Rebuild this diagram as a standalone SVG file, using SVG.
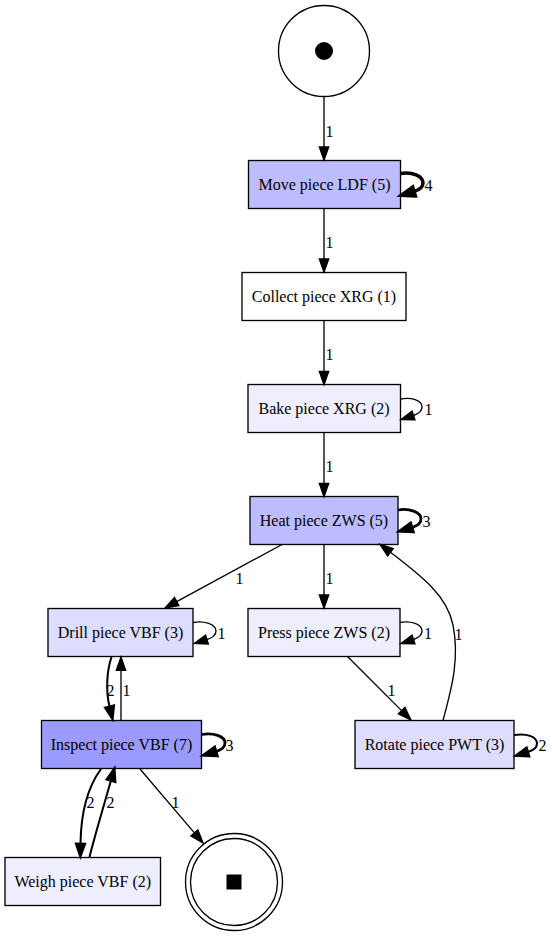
<svg xmlns="http://www.w3.org/2000/svg" width="552" height="936" viewBox="0 0 552 936">
<style>
.box{stroke:#000;stroke-width:1.33}
.lbl{font-family:"Liberation Serif","Times New Roman",serif;font-size:16px;fill:#000}
.nl{text-anchor:middle}
.e{fill:none;stroke:#000}
.p1{stroke-width:1.33}
.p2{stroke-width:2.04}
.p3{stroke-width:2.76}
.p4{stroke-width:3.47}
</style>
<defs>
<marker id="a1" markerUnits="userSpaceOnUse" markerWidth="14" markerHeight="10" refX="0" refY="0" orient="auto" overflow="visible"><path d="M0,-4.67 L13.3,0 L0,4.67 Z" fill="#000" stroke="#000" stroke-width="1.33"/></marker>
<marker id="a2" markerUnits="userSpaceOnUse" markerWidth="14" markerHeight="10" refX="0" refY="0" orient="auto" overflow="visible"><path d="M0,-4.67 L13.3,0 L0,4.67 Z" fill="#000" stroke="#000" stroke-width="2.04"/></marker>
<marker id="a3" markerUnits="userSpaceOnUse" markerWidth="14" markerHeight="10" refX="0" refY="0" orient="auto" overflow="visible"><path d="M0,-4.67 L13.3,0 L0,4.67 Z" fill="#000" stroke="#000" stroke-width="2.76"/></marker>
<marker id="a4" markerUnits="userSpaceOnUse" markerWidth="14" markerHeight="10" refX="0" refY="0" orient="auto" overflow="visible"><path d="M0,-4.67 L13.3,0 L0,4.67 Z" fill="#000" stroke="#000" stroke-width="3.47"/></marker>
</defs>
<rect width="552" height="936" fill="#fff"/>

<g id="start">
<circle cx="324" cy="51" r="45.5" fill="#fff" stroke="#000" stroke-width="1.33"/>
<circle cx="324" cy="51" r="9" fill="#000"/>
</g>
<g id="end">
<circle cx="234" cy="882" r="48.5" fill="#fff" stroke="#000" stroke-width="1.33"/>
<circle cx="234" cy="882" r="43.5" fill="none" stroke="#000" stroke-width="1.33"/>
<rect x="226.5" y="874.5" width="15" height="15" fill="#000"/>
</g>

<g id="move"><rect class="box" x="248.5" y="160.5" width="152" height="48" fill="#BCBCFF"/><text class="lbl nl" x="324.5" y="190">Move piece LDF (5)</text></g>
<g id="collect"><rect class="box" x="242" y="272.5" width="164" height="48" fill="#FFFFFF"/><text class="lbl nl" x="324" y="302">Collect piece XRG (1)</text></g>
<g id="bake"><rect class="box" x="248" y="384.5" width="152.5" height="48" fill="#EEEEFF"/><text class="lbl nl" x="324" y="414">Bake piece XRG (2)</text></g>
<g id="heat"><rect class="box" x="250" y="496.5" width="148" height="48" fill="#BCBCFF"/><text class="lbl nl" x="324" y="526">Heat piece ZWS (5)</text></g>
<g id="drill"><rect class="box" x="48" y="608.5" width="145" height="48" fill="#DDDDFF"/><text class="lbl nl" x="120.5" y="638">Drill piece VBF (3)</text></g>
<g id="press"><rect class="box" x="248" y="608.5" width="152" height="48" fill="#EEEEFF"/><text class="lbl nl" x="324" y="638">Press piece ZWS (2)</text></g>
<g id="inspect"><rect class="box" x="41.5" y="720.5" width="160" height="48" fill="#9B9BFF"/><text class="lbl nl" x="121.5" y="750">Inspect piece VBF (7)</text></g>
<g id="rotate"><rect class="box" x="355" y="720.5" width="159" height="48" fill="#DDDDFF"/><text class="lbl nl" x="434.5" y="750">Rotate piece PWT (3)</text></g>
<g id="weigh"><rect class="box" x="5" y="857.5" width="155.5" height="48" fill="#EEEEFF"/><text class="lbl nl" x="82.75" y="887">Weigh piece VBF (2)</text></g>

<g id="edges">
<path class="e p1" d="M324,97 L324,147" marker-end="url(#a1)"/>
<text class="lbl" x="325.5" y="137">1</text>
<path class="e p4" d="M400.7,173.5 C412,171.5 423,176 423,183 C423,187.5 419,190 414,191.5" marker-end="url(#a4)"/>
<text class="lbl" x="424.5" y="191">4</text>
<path class="e p1" d="M324,208.5 L324,259" marker-end="url(#a1)"/>
<text class="lbl" x="325.5" y="248">1</text>
<path class="e p1" d="M324,320.5 L324,371.5" marker-end="url(#a1)"/>
<text class="lbl" x="325.5" y="360">1</text>
<path class="e p1" d="M400.5,399 C411,397 422,400 422,407 C422,411 418,414 413.5,415.5" marker-end="url(#a1)"/>
<text class="lbl" x="424.5" y="414.5">1</text>
<path class="e p1" d="M324,432.5 L324,483.5" marker-end="url(#a1)"/>
<text class="lbl" x="325.5" y="472">1</text>
<path class="e p3" d="M398,510 C409,508 421,512 421,519 C421,523.5 417,526 412,527.5" marker-end="url(#a3)"/>
<text class="lbl" x="422.5" y="527">3</text>
<path class="e p1" d="M282,544.5 L176.7,601.6" marker-end="url(#a1)"/>
<text class="lbl" x="235.5" y="584">1</text>
<path class="e p1" d="M324,544.5 L324,595" marker-end="url(#a1)"/>
<text class="lbl" x="325.5" y="584">1</text>
<path class="e p1" d="M193,622.5 C204,620.5 216,624 216,631 C216,635.5 212,638 207,639.5" marker-end="url(#a1)"/>
<text class="lbl" x="217.5" y="639">1</text>
<path class="e p1" d="M400,622.5 C411,620.5 422,624 422,631 C422,635.5 418,638 413.5,639.5" marker-end="url(#a1)"/>
<text class="lbl" x="424" y="639">1</text>
<path class="e p1" d="M347.5,656.5 L401.6,710.6" marker-end="url(#a1)"/>
<text class="lbl" x="387.5" y="696">1</text>
<path class="e p1" d="M443,720.5 C451,690 460,660 453,625 C447,595 420,575 390.4,552.3" marker-end="url(#a1)"/>
<text class="lbl" x="454.5" y="640">1</text>
<path class="e p2" d="M514.3,735 C526,733 537,736.5 537,743.5 C537,748 533,750.5 528,752" marker-end="url(#a2)"/>
<text class="lbl" x="538.5" y="751">2</text>
<path class="e p2" d="M111.5,657 C107,670 105.5,690 109.5,706.5" marker-end="url(#a2)"/>
<text class="lbl" x="106.5" y="696">2</text>
<path class="e p1" d="M121,720.5 L121,670.3" marker-end="url(#a1)"/>
<text class="lbl" x="122.5" y="696">1</text>
<path class="e p3" d="M201.7,734.5 C213,732.5 225,736 225,743 C225,747.5 221,750 216,751.5" marker-end="url(#a3)"/>
<text class="lbl" x="225.5" y="751">3</text>
<path class="e p2" d="M101,769 C90,784 81,805 80.5,843.7" marker-end="url(#a2)"/>
<text class="lbl" x="86.5" y="808">2</text>
<path class="e p2" d="M89.5,857 C95,835 104,805 110.9,780.8" marker-end="url(#a2)"/>
<text class="lbl" x="106.5" y="808">2</text>
<path class="e p1" d="M140,769 L194.4,832.9" marker-end="url(#a1)"/>
<text class="lbl" x="171.5" y="808">1</text>
</g>
</svg>
